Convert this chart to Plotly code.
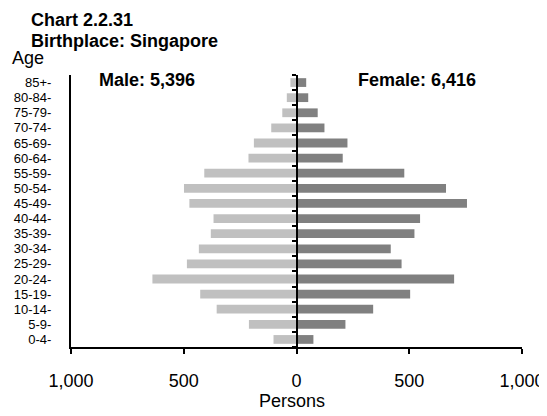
import plotly.graph_objects as go

ages = ["0-4-", "5-9-", "10-14-", "15-19-", "20-24-", "25-29-", "30-34-", "35-39-",
        "40-44-", "45-49-", "50-54-", "55-59-", "60-64-", "65-69-", "70-74-",
        "75-79-", "80-84-", "85+-"]
male = [102, 211, 354, 427, 639, 486, 433, 380, 368, 475, 499, 409, 213, 189, 112, 63, 43, 27]
female = [75, 217, 340, 504, 699, 466, 418, 523, 548, 756, 663, 478, 205, 226, 124, 94, 52, 43]
x_ticks = [-1000, -500, 0, 500, 1000]
x_tick_text = ["1,000", "500", "0", "500", "1,000"]
male_total = "5,396"
female_total = "6,416"

FONT = "Arial, Liberation Sans, sans-serif"
idx = list(range(len(ages)))

# page offset (body margin) compensation: figure drawn at (8, 8) in page
OFF = 8
W, H = 547 - OFF, 416 - OFF
PL, PR, PT, PB = 71, 522.4, 74.7, 346.9   # plot area in page pixels


def px(x):
    return (x - PL) / (PR - PL)


def py(y):
    return (PB - y) / (PB - PT)


fig = go.Figure()
fig.add_trace(go.Bar(y=idx, x=[-v for v in male], orientation="h", width=0.58,
                     marker=dict(color="#C0C0C0", line=dict(width=0)), name="Male",
                     showlegend=False, hoverinfo="skip"))
fig.add_trace(go.Bar(y=idx, x=female, orientation="h", width=0.58,
                     marker=dict(color="#808080", line=dict(width=0)), name="Female",
                     showlegend=False, hoverinfo="skip"))
fig.add_trace(go.Scatter(x=[0], y=[0], yaxis="y2", mode="markers",
                         marker=dict(opacity=0), showlegend=False, hoverinfo="skip"))

fig.update_layout(
    width=W, height=H,
    margin=dict(l=PL - OFF, r=W - (PR - OFF), t=PT - OFF, b=H - (PB - OFF), autoexpand=False),
    paper_bgcolor="white", plot_bgcolor="white",
    barmode="overlay",
    font=dict(family=FONT, color="black", size=18),
    xaxis=dict(range=[-1000, 1000], tickvals=x_ticks, ticktext=x_tick_text,
               showgrid=False, zeroline=False, showline=True, linecolor="black",
               linewidth=2, ticks="outside", ticklen=5, tickwidth=2, tickcolor="black",
               tickfont=dict(size=18), ticklabelstandoff=11),
    yaxis=dict(range=[-0.5, len(ages) - 0.5], tickvals=idx, ticktext=ages,
               showgrid=False, zeroline=False, showline=True, linecolor="black",
               linewidth=2, ticks="", tickfont=dict(size=13), ticklabelstandoff=15),
    yaxis2=dict(overlaying="y", anchor="free", position=0.5, side="left",
                range=[-0.5, len(ages) - 0.5],
                tickvals=[i - 0.5 for i in range(len(ages) + 1)],
                showticklabels=False, showgrid=False, zeroline=False,
                showline=True, linecolor="black", linewidth=2,
                ticks="outside", ticklen=4, tickwidth=2, tickcolor="black"),
)

ann = dict(xref="paper", yref="paper", showarrow=False, yanchor="middle")
fig.add_annotation(text="<b>Chart 2.2.31</b>", x=px(29), y=py(20), xanchor="left",
                   font=dict(size=18), **ann)
fig.add_annotation(text="<b>Birthplace: Singapore</b>", x=px(29), y=py(40.5), xanchor="left",
                   font=dict(size=18), **ann)
fig.add_annotation(text="Age", x=px(10), y=py(57.5), xanchor="left",
                   font=dict(size=18), **ann)
fig.add_annotation(text=f"<b>Male: {male_total}</b>", x=px(147.5), y=py(80),
                   xanchor="center", font=dict(size=18), **ann)
fig.add_annotation(text=f"<b>Female: {female_total}</b>", x=px(417.5), y=py(80),
                   xanchor="center", font=dict(size=18), **ann)
fig.add_annotation(text="Persons", x=px(292), y=py(401),
                   xanchor="center", font=dict(size=18), **ann)

fig.write_html("out.html")
